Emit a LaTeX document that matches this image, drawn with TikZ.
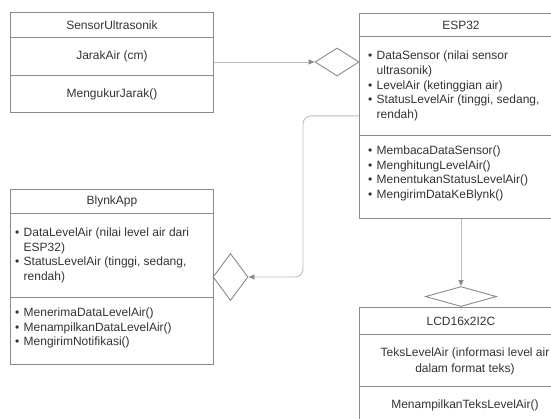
\documentclass[tikz,border=0pt]{standalone}
\usepackage{fontspec}
\setmainfont{Liberation Sans}
\usetikzlibrary{shapes.geometric,arrows.meta}
\definecolor{boxc}{HTML}{8A8A8A}
\definecolor{linec}{HTML}{BDBDBD}
\definecolor{tipc}{HTML}{8A8A8A}
\definecolor{txt}{HTML}{333333}
\newcommand\bl{\makebox[8.5pt][l]{•}}
\newcommand\ind{\hspace*{8.5pt}}
\begin{document}
\begin{tikzpicture}[x=1pt,y=-1pt,
  comp/.style={draw=boxc,line width=0.9pt,minimum width=203pt,inner sep=0pt,anchor=north west,text=txt,font=\fontsize{12}{14.5}\selectfont},
  txtblock/.style={inner sep=0pt,anchor=west,align=left,text=txt,font=\fontsize{12}{14.8}\selectfont},
  txtcenter/.style={inner sep=0pt,align=center,text=txt,font=\fontsize{12}{16}\selectfont},
  dia/.style={draw=boxc,line width=0.9pt,shape=diamond,inner sep=0pt,fill=white},
  conn/.style={draw=linec,line width=0.9pt,-{Triangle[length=6pt,width=5pt,color=tipc]}}
]
\useasboundingbox (0,0) rectangle (551,419);
\clip (0,0) rectangle (551,419);

% SensorUltrasonik
\node[comp,minimum height=25pt] (su-t) at (10,12) {SensorUltrasonik};
\node[comp,minimum height=38pt] (su-a) at (10,37) {JarakAir (cm)};
\node[comp,minimum height=37pt] (su-m) at (10,75) {MengukurJarak()};

% ESP32
\node[comp,minimum height=23pt] (esp-t) at (359,13) {ESP32};
\node[comp,minimum height=99pt] (esp-a) at (359,36) {};
\node[comp,minimum height=83pt] (esp-m) at (359,135) {};
\node[txtblock] (esp-at) at ([xshift=9pt]esp-a.west)
  {\bl DataSensor (nilai sensor\\ \ind ultrasonik)\\ \bl LevelAir (ketinggian air)\\ \bl StatusLevelAir (tinggi, sedang,\\ \ind rendah)};
\node[txtblock] (esp-mt) at ([xshift=9pt,yshift=3.5pt]esp-m.west)
  {\bl MembacaDataSensor()\\ \bl MenghitungLevelAir()\\ \bl MenentukanStatusLevelAir()\\ \bl MengirimDataKeBlynk()};

% BlynkApp
\node[comp,minimum height=24pt] (bl-t) at (10,189) {BlynkApp};
\node[comp,minimum height=84pt] (bl-a) at (10,213) {};
\node[comp,minimum height=67pt] (bl-m) at (10,297) {};
\node[txtblock] (bl-at) at ([xshift=5pt]bl-a.west)
  {\bl DataLevelAir (nilai level air dari\\ \ind ESP32)\\ \bl StatusLevelAir (tinggi, sedang,\\ \ind rendah)};
\node[txtblock] (bl-mt) at ([xshift=5pt,yshift=3pt]bl-m.west)
  {\bl MenerimaDataLevelAir()\\ \bl MenampilkanDataLevelAir()\\ \bl MengirimNotifikasi()};

% LCD16x2I2C
\node[comp,minimum height=27pt] (lcd-t) at (359,307) {LCD16x2I2C};
\node[comp,minimum height=52pt] (lcd-a) at (359,334) {};
\node[comp,minimum height=46pt] (lcd-m) at (359,386) {};
\node[txtcenter] (lcd-at) at ([xshift=4pt,yshift=-1pt]lcd-a.center) {TeksLevelAir (informasi level air\\ dalam format teks)};
\node[txtcenter] (lcd-mt) at ([xshift=4pt,yshift=-19pt]lcd-m.north) {MenampilkanTeksLevelAir()};

% Diamonds
\node[dia,minimum width=44pt,minimum height=28pt] (d1) at (337,62) {};
\node[dia,minimum width=35pt,minimum height=47pt] (d2) at (230.5,277) {};
\node[dia,minimum width=71pt,minimum height=20pt,anchor=south] (d3) at (esp-m.south |- lcd-t.north) {};

% Connectors
\draw[conn] (d1.west -| su-a.east) -- (d1.west);
\draw[conn,rounded corners=8pt] ([yshift=-30pt]esp-a.west) -- ++(-56,0) |- (d2.east);
\draw[conn] (esp-m.south) -- (d3.north);
\end{tikzpicture}
\end{document}
